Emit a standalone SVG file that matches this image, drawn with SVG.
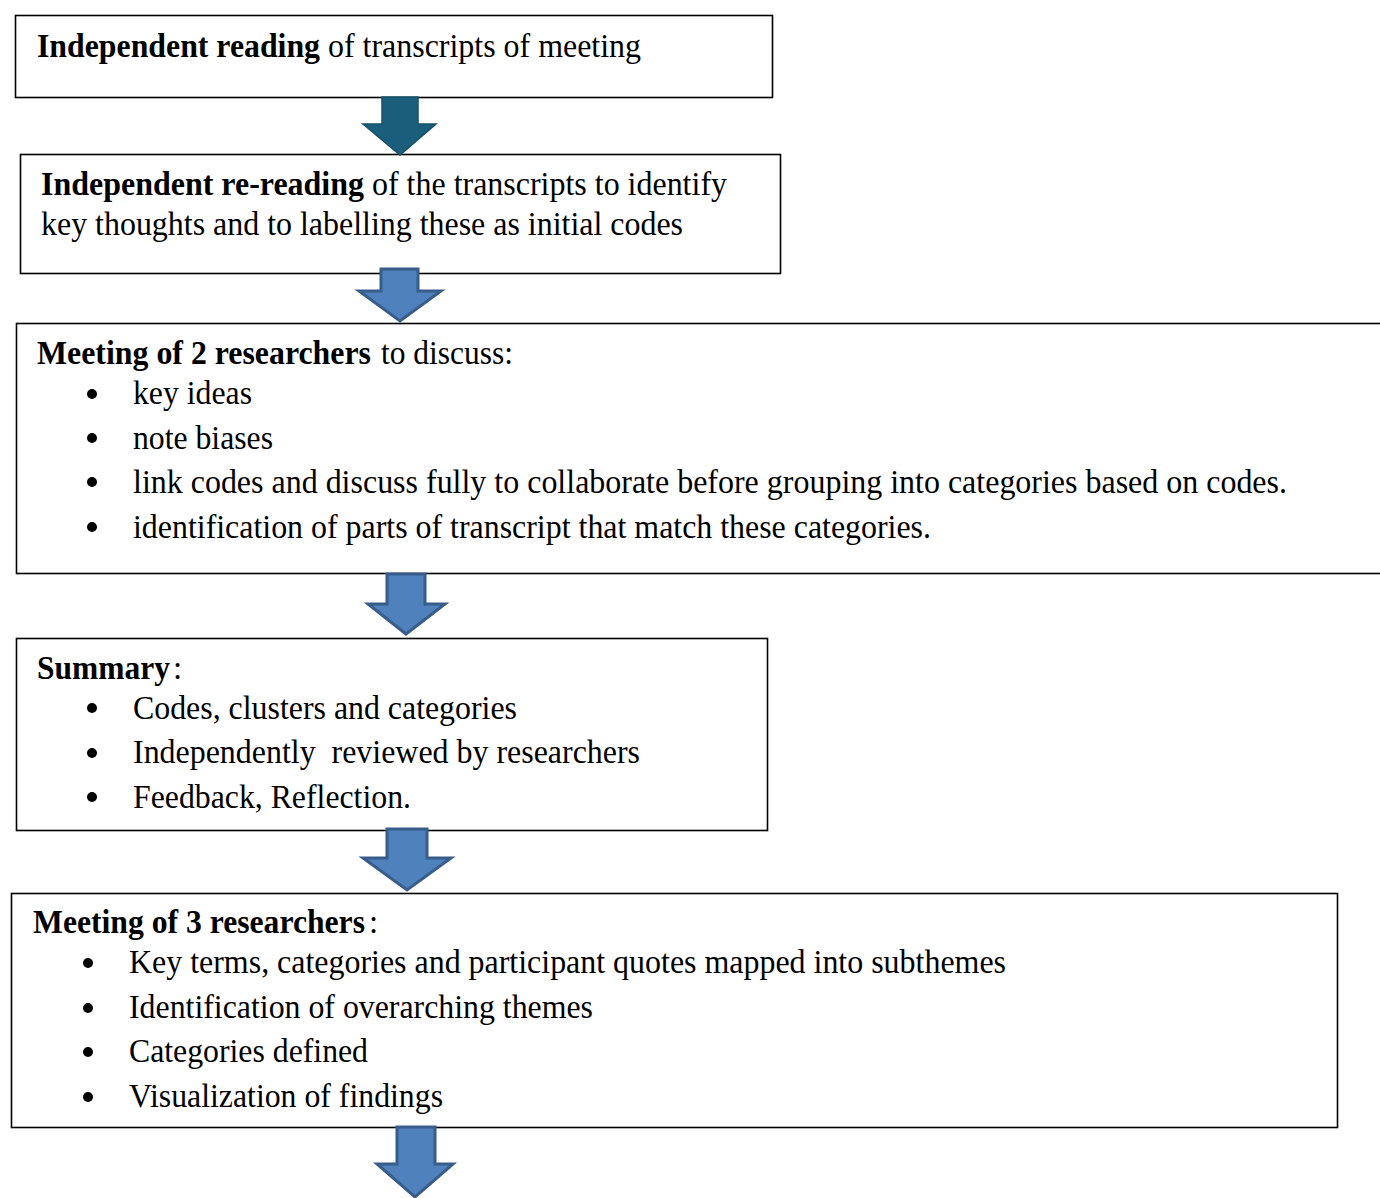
<svg xmlns="http://www.w3.org/2000/svg" width="1380" height="1198" viewBox="0 0 1380 1198">
<style>
.box{fill:#fff;stroke:#000;stroke-width:1.6}
.t{font-family:'Liberation Serif','Times New Roman',Times,serif;font-size:33px;fill:#000}
.b{font-weight:bold}
.dot{fill:#000}
.arr{fill:#4F81BD;stroke:#385D8A;stroke-width:3;stroke-linejoin:miter}
.arr1{fill:#1B5E7C;stroke:#15506A;stroke-width:1.5}
</style>
<rect width="1380" height="1198" fill="#fff"/>
<g id="node1">
<rect class="box" x="15.5" y="15.5" width="757" height="82"/>
<text class="t b" x="37" y="57" textLength="283" lengthAdjust="spacingAndGlyphs">Independent reading</text>
<text class="t" x="328" y="57" textLength="313" lengthAdjust="spacingAndGlyphs">of transcripts of meeting</text>
</g>
<g id="node2">
<rect class="box" x="20.5" y="154.5" width="760" height="119"/>
<text class="t b" x="41" y="195" textLength="323" lengthAdjust="spacingAndGlyphs">Independent re-reading</text>
<text class="t" x="372" y="195" textLength="355" lengthAdjust="spacingAndGlyphs">of the transcripts to identify</text>
<text class="t" x="41" y="235" textLength="642" lengthAdjust="spacingAndGlyphs">key thoughts and to labelling these as initial codes</text>
</g>
<g id="node3">
<rect class="box" x="16.5" y="323.5" width="1380" height="250"/>
<text class="t b" x="37" y="364" textLength="334" lengthAdjust="spacingAndGlyphs">Meeting of 2 researchers</text>
<text class="t" x="381" y="364" textLength="132" lengthAdjust="spacingAndGlyphs">to discuss:</text>
<circle class="dot" cx="92" cy="394" r="5"/>
<text class="t" x="133" y="404" textLength="119" lengthAdjust="spacingAndGlyphs">key ideas</text>
<circle class="dot" cx="92" cy="438" r="5"/>
<text class="t" x="133" y="449" textLength="140" lengthAdjust="spacingAndGlyphs">note biases</text>
<circle class="dot" cx="92" cy="482" r="5"/>
<text class="t" x="133" y="493" textLength="1154" lengthAdjust="spacingAndGlyphs">link codes and discuss fully to collaborate before grouping into categories based on codes.</text>
<circle class="dot" cx="92" cy="527" r="5"/>
<text class="t" x="133" y="538" textLength="798" lengthAdjust="spacingAndGlyphs">identification of parts of transcript that match these categories.</text>
</g>
<g id="node4">
<rect class="box" x="16.5" y="638.5" width="751" height="192"/>
<text class="t b" x="37" y="679" textLength="133" lengthAdjust="spacingAndGlyphs">Summary</text>
<text class="t" x="173" y="679">:</text>
<circle class="dot" cx="92" cy="708" r="5"/>
<text class="t" x="133" y="719" textLength="384" lengthAdjust="spacingAndGlyphs">Codes, clusters and categories</text>
<circle class="dot" cx="92" cy="753" r="5"/>
<text class="t" x="133" y="763" textLength="507" lengthAdjust="spacingAndGlyphs" xml:space="preserve">Independently  reviewed by researchers</text>
<circle class="dot" cx="92" cy="797" r="5"/>
<text class="t" x="133" y="808" textLength="278" lengthAdjust="spacingAndGlyphs">Feedback, Reflection.</text>
</g>
<g id="node5">
<rect class="box" x="11.5" y="893.5" width="1326" height="234"/>
<text class="t b" x="33" y="933" textLength="332" lengthAdjust="spacingAndGlyphs">Meeting of 3 researchers</text>
<text class="t" x="369" y="933">:</text>
<circle class="dot" cx="88" cy="963" r="5"/>
<text class="t" x="129" y="973" textLength="877" lengthAdjust="spacingAndGlyphs">Key terms, categories and participant quotes mapped into subthemes</text>
<circle class="dot" cx="88" cy="1008" r="5"/>
<text class="t" x="129" y="1018" textLength="464" lengthAdjust="spacingAndGlyphs">Identification of overarching themes</text>
<circle class="dot" cx="88" cy="1052" r="5"/>
<text class="t" x="129" y="1062" textLength="239" lengthAdjust="spacingAndGlyphs">Categories defined</text>
<circle class="dot" cx="88" cy="1097" r="5"/>
<text class="t" x="129" y="1107" textLength="314" lengthAdjust="spacingAndGlyphs">Visualization of findings</text>
</g>
<g id="connectors">
<polygon class="arr1" points="382,97 418,97 418,124 436,124 400,155 363,124 382,124"/>
<polygon class="arr" points="381,269 418,269 418,291 441,291 400,321 359,291 381,291"/>
<polygon class="arr" points="387,574 425,574 425,604 445,604 406,634 368,604 387,604"/>
<polygon class="arr" points="387,829 427,829 427,858 451,858 407,890 363,858 387,858"/>
<polygon class="arr" points="397,1127 435,1127 435,1164 453,1164 415,1197 377,1164 397,1164"/>
</g>
</svg>
